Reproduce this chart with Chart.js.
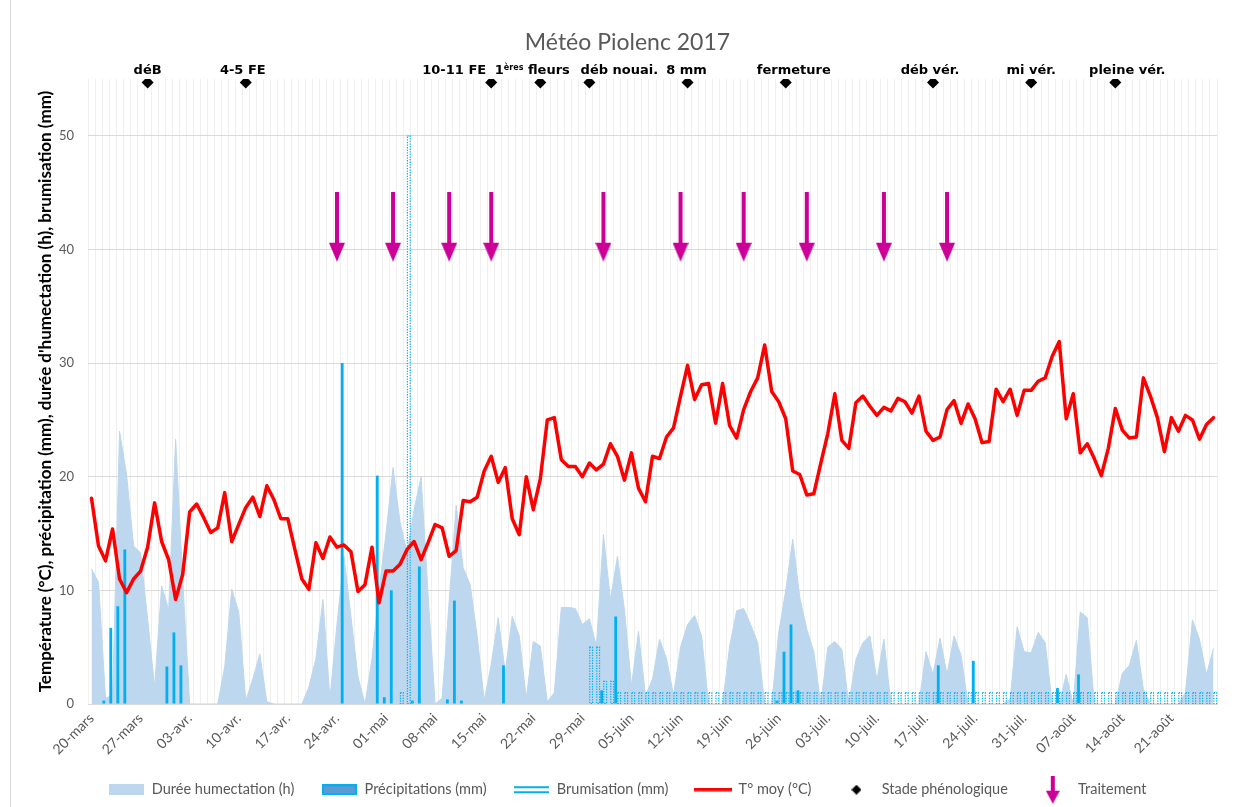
<!DOCTYPE html>
<html lang="fr">
<head>
<meta charset="utf-8">
<title>Météo Piolenc 2017</title>
<script src="https://cdn.jsdelivr.net/npm/chart.js@4.4.1/dist/chart.umd.min.js"></script>
<style>
  html, body { margin: 0; padding: 0; background: #fff; }
  #cadre { position: relative; width: 1235px; height: 807px; }
  #cadre::before { content: ''; position: absolute; left: 10px; top: 0; bottom: 0; border-left: 1px solid #d9d9d9; }
</style>
</head>
<body>
<div id="cadre"><canvas id="graphique"></canvas></div>
<script>
// étiquettes affichées sur l'axe des dates (une par semaine)
const tickLabels = ['20-mars', '27-mars', '03-avr.', '10-avr.', '17-avr.', '24-avr.', '01-mai', '08-mai',
  '15-mai', '22-mai', '29-mai', '05-juin', '12-juin', '19-juin', '26-juin', '03-juil.', '10-juil.',
  '17-juil.', '24-juil.', '31-juil.', '07-août', '14-août', '21-août'];

// T° moyenne journalière (°C), du 20 mars au 27 août
const temperature = [
  18.1, 13.9, 12.6, 15.4, 11.0, 9.8, 11.0,
  11.7, 13.8, 17.7, 14.3, 12.7, 9.2, 11.4,
  16.9, 17.6, 16.4, 15.1, 15.5, 18.6, 14.3,
  15.8, 17.3, 18.2, 16.5, 19.2, 18.0, 16.3,
  16.3, 13.6, 11.0, 10.1, 14.2, 12.8, 14.7,
  13.8, 14.0, 13.4, 9.9, 10.5, 13.8, 8.9,
  11.7, 11.7, 12.3, 13.6, 14.3, 12.7, 14.2,
  15.8, 15.5, 13.0, 13.5, 17.9, 17.8, 18.2,
  20.5, 21.8, 19.5, 20.8, 16.3, 14.9, 20.0,
  17.1, 19.8, 25.0, 25.2, 21.5, 20.9, 20.9,
  20.0, 21.2, 20.6, 21.1, 22.9, 21.8, 19.7,
  22.1, 19.0, 17.8, 21.8, 21.6, 23.5, 24.3,
  27.1, 29.8, 26.8, 28.1, 28.2, 24.7, 28.2,
  24.5, 23.4, 25.9, 27.5, 28.7, 31.6, 27.5,
  26.6, 25.1, 20.5, 20.2, 18.4, 18.5, 21.2,
  23.8, 27.3, 23.2, 22.5, 26.5, 27.1, 26.2,
  25.4, 26.1, 25.8, 26.9, 26.6, 25.6, 27.1,
  24.0, 23.2, 23.5, 25.9, 26.7, 24.7, 26.4,
  25.1, 23.0, 23.1, 27.7, 26.6, 27.7, 25.4,
  27.6, 27.6, 28.4, 28.7, 30.6, 31.9, 25.1,
  27.3, 22.1, 22.9, 21.6, 20.1, 22.5, 26.0,
  24.1, 23.4, 23.5, 28.7, 27.1, 25.2, 22.2,
  25.2, 24.0, 25.4, 25.0, 23.3, 24.6, 25.2
];

// durée d'humectation (h)
const humectation = [
  11.9, 10.7, 0.5, 0.8, 24.0, 20.2, 13.9,
  13.3, 7.5, 1.5, 10.4, 8.3, 23.3, 11.0,
  0, 0, 0, 0, 0, 3.3, 10.1,
  8.1, 0.3, 2.2, 4.4, 0.2, 0, 0,
  0, 0, 0, 1.5, 4.0, 9.2, 0.5,
  7.0, 13.0, 7.7, 2.4, 0, 4.0, 10.0,
  15.0, 20.8, 16.0, 13.3, 17.1, 20.0, 9.6,
  0, 0.5, 9.0, 17.5, 12.0, 10.5, 6.0,
  0.3, 3.5, 7.6, 2.8, 7.7, 6.0, 0.5,
  5.5, 5.1, 0.2, 1.0, 8.5, 8.5, 8.4,
  7.0, 7.5, 5.1, 14.9, 9.2, 13.0, 8.3,
  1.6, 6.4, 0.7, 2.2, 5.7, 4.0, 0.8,
  5.0, 7.0, 7.8, 6.0, 0, 0, 0,
  5.1, 8.2, 8.4, 7.0, 5.4, 0, 0,
  6.3, 10.0, 14.5, 9.4, 6.6, 4.6, 0,
  5.0, 5.5, 4.8, 0, 3.9, 5.4, 6.0,
  2.1, 5.7, 0, 0, 0, 0, 0,
  4.6, 2.6, 5.8, 2.6, 6.0, 4.3, 0,
  0, 0, 0, 0, 0, 0.4, 6.8,
  4.6, 4.5, 6.3, 5.4, 0, 0, 2.6,
  0, 8.1, 7.6, 0, 0, 0, 0,
  2.7, 3.4, 5.6, 1.3, 0, 0, 0,
  0, 0, 1.0, 7.4, 5.7, 2.6, 4.9
];

// précipitations (mm)
const precipitations = [
  0, 0, 0.3, 6.7, 8.6, 13.6, 0,
  0, 0, 0, 0, 3.3, 6.3, 3.4,
  0, 0, 0, 0, 0, 0, 0,
  0, 0, 0, 0, 0, 0, 0,
  0, 0, 0, 0, 0, 0, 0,
  0, 30.0, 0, 0, 0, 0, 20.1,
  0.6, 10.0, 0, 0, 0.3, 12.1, 0,
  0, 0, 0.4, 9.1, 0.3, 0, 0,
  0, 0, 0, 3.4, 0, 0, 0,
  0, 0, 0, 0, 0, 0, 0,
  0, 0, 0, 1.2, 0, 7.7, 0,
  0, 0, 0, 0, 0, 0, 0,
  0, 0, 0, 0, 0, 0, 0,
  0, 0, 0, 0, 0, 0, 0,
  0.3, 4.6, 7.0, 1.2, 0, 0, 0,
  0, 0, 0, 0, 0, 0, 0,
  0, 0, 0, 0, 0, 0, 0,
  0, 0, 3.4, 0, 0, 0, 0,
  3.8, 0, 0, 0, 0, 0, 0,
  0, 0, 0, 0, 0, 1.4, 0,
  0, 2.6, 0, 0, 0, 0, 0,
  0, 0, 0, 0, 0, 0, 0,
  0, 0, 0, 0, 0, 0, 0
];

// brumisation (mm)
const brumisation = [
  0, 0, 0, 0, 0, 0, 0,
  0, 0, 0, 0, 0, 0, 0,
  0, 0, 0, 0, 0, 0, 0,
  0, 0, 0, 0, 0, 0, 0,
  0, 0, 0, 0, 0, 0, 0,
  0, 0, 0, 0, 0, 0, 0,
  0, 0, 1, 50, 0, 0, 0,
  0, 0, 0, 0, 0, 0, 0,
  0, 0, 0, 0, 0, 0, 0,
  0, 0, 0, 0, 0, 0, 0,
  0, 5, 5, 2, 2, 1, 1,
  1, 1, 1, 1, 1, 1, 1,
  1, 1, 1, 1, 1, 1, 1,
  1, 1, 1, 1, 1, 1, 1,
  1, 1, 1, 1, 1, 1, 1,
  1, 1, 1, 1, 1, 1, 1,
  1, 1, 1, 1, 1, 1, 1,
  1, 1, 1, 1, 1, 1, 1,
  1, 1, 1, 1, 1, 1, 1,
  1, 1, 1, 1, 1, 1, 1,
  1, 1, 1, 1, 1, 1, 1,
  1, 1, 1, 1, 1, 1, 1,
  1, 1, 1, 1, 1, 1, 1
];

// stades phénologiques
const stadeJours = ['28-mars', '11-avr.', '16-mai', '23-mai', '30-mai', '13-juin', '27-juin', '18-juil.', '01-août', '13-août'];
const stadeNoms = ['déB', '4-5 FE', '10-11 FE', '1ères fleurs', 'déb nouai.', '8 mm', 'fermeture', 'déb vér.', 'mi vér.', 'pleine vér.'];
const stadeNiveau = 54.7;

// traitements
const traitementJours = ['24-avr.', '02-mai', '10-mai', '16-mai', '01-juin', '12-juin', '21-juin', '30-juin', '11-juil.', '20-juil.'];
const traitementNiveau = 42;

const moisNoms = ['janv.', 'févr.', 'mars', 'avr.', 'mai', 'juin', 'juil.', 'août', 'sept.'];
const jours = temperature.map((_, i) => {
  const d = new Date(2017, 2, 20 + i);
  return String(d.getDate()).padStart(2, '0') + '-' + moisNoms[d.getMonth()];
});

const MAGENTA = '#CC0099';
const BLEU = '#00B0F0';

function canevas(l, h, dessin) {
  const c = document.createElement('canvas');
  c.width = l;
  c.height = h;
  dessin(c.getContext('2d'));
  return c;
}

function fleche(l, h, tige, tete) {
  return canevas(l, h, g => {
    g.fillStyle = MAGENTA;
    g.fillRect((l - tige) / 2, 0, tige, h - tete);
    g.beginPath();
    g.moveTo(0, h - tete);
    g.lineTo(l, h - tete);
    g.lineTo(l / 2, h);
    g.closePath();
    g.fill();
  });
}

const flecheGraphique = fleche(16, 70, 4, 19);

// icônes de la légende
const icones = [
  canevas(35, 11, g => { g.fillStyle = '#BDD7EE'; g.fillRect(0, 0, 35, 11); }),
  canevas(35, 11, g => { g.fillStyle = '#5B9BD5'; g.fillRect(0, 0, 35, 11); g.strokeStyle = BLEU; g.lineWidth = 2; g.strokeRect(1, 1, 33, 9); }),
  canevas(35, 11, g => { g.fillStyle = BLEU; g.fillRect(0, 2, 35, 2); g.fillRect(0, 7, 35, 2); }),
  canevas(38, 4, g => { g.fillStyle = '#FF0000'; g.fillRect(0, 0, 38, 3.5); }),
  canevas(10, 10, g => { g.fillStyle = '#000'; g.beginPath(); g.moveTo(5, 0); g.lineTo(10, 5); g.lineTo(5, 10); g.lineTo(0, 5); g.closePath(); g.fill(); }),
  fleche(14, 28, 4, 13)
];

// la brumisation : barres sans remplissage, contour pointillé
const brumisationPointillee = {
  id: 'brumisationPointillee',
  afterDatasetDraw(chart, args) {
    if (chart.data.datasets[args.index].label !== 'Brumisation (mm)') return;
    const ctx = chart.ctx;
    ctx.save();
    ctx.strokeStyle = BLEU;
    ctx.lineWidth = 1.2;
    ctx.setLineDash([1.3, 1.3]);
    args.meta.data.forEach((barre, i) => {
      if (!brumisation[i]) return;
      const {x, y, base, width} = barre.getProps(['x', 'y', 'base', 'width'], true);
      ctx.strokeRect(x - width / 2, y, width, base - y);
    });
    ctx.restore();
  }
};

// noms des stades au-dessus des losanges
const decalageEtiquettes = [0, -3, -37, -8, 30, -1, 8, -3, 0, 12];
const etiquettesStades = {
  id: 'etiquettesStades',
  afterDatasetsDraw(chart) {
    const idx = chart.data.datasets.findIndex(d => d.label === 'Stade phénologique');
    const meta = chart.getDatasetMeta(idx);
    const ctx = chart.ctx;
    const normal = 'bold 13px "DejaVu Sans"';
    const petit = 'bold 8px "DejaVu Sans"';
    ctx.save();
    ctx.fillStyle = '#000';
    ctx.textBaseline = 'alphabetic';
    ctx.textAlign = 'left';
    meta.data.forEach((pt, i) => {
      const nom = stadeNoms[i];
      const y = pt.y - 8;
      const m = nom.match(/^(\d+)(ères)(.*)$/);
      const morceaux = m ? [[m[1], normal, 0], [m[2], petit, -4], [m[3], normal, 0]] : [[nom, normal, 0]];
      let total = 0;
      morceaux.forEach(p => { ctx.font = p[1]; total += ctx.measureText(p[0]).width; });
      let x = pt.x + decalageEtiquettes[i] - total / 2;
      morceaux.forEach(p => {
        ctx.font = p[1];
        ctx.fillText(p[0], x, y + p[2]);
        x += ctx.measureText(p[0]).width;
      });
    });
    ctx.restore();
  }
};

const police = 'Lato';

new Chart(document.getElementById('graphique'), {
  type: 'bar',
  data: {
    labels: jours,
    datasets: [
      {
        type: 'line',
        label: 'Durée humectation (h)',
        data: humectation,
        fill: 'origin',
        backgroundColor: '#BDD7EE',
        borderColor: '#BDD7EE',
        borderWidth: 1,
        pointRadius: 0,
        tension: 0,
        order: 6
      },
      {
        label: 'Précipitations (mm)',
        data: precipitations,
        backgroundColor: BLEU,
        barPercentage: 0.8,
        categoryPercentage: 1,
        order: 4
      },
      {
        label: 'Brumisation (mm)',
        data: brumisation,
        backgroundColor: 'rgba(0,0,0,0)',
        barPercentage: 0.8,
        categoryPercentage: 1,
        order: 5
      },
      {
        type: 'line',
        label: 'T° moy (°C)',
        data: temperature,
        borderColor: '#FF0000',
        borderWidth: 3.5,
        borderJoinStyle: 'round',
        borderCapStyle: 'round',
        pointRadius: 0,
        tension: 0,
        fill: false,
        order: 3
      },
      {
        type: 'line',
        label: 'Stade phénologique',
        data: stadeJours.map(j => ({x: j, y: stadeNiveau})),
        showLine: false,
        pointStyle: 'rectRot',
        pointRadius: 6,
        pointBorderWidth: 0,
        backgroundColor: '#000',
        borderColor: '#000',
        order: 2
      },
      {
        type: 'line',
        label: 'Traitement',
        data: traitementJours.map(j => ({x: j, y: traitementNiveau})),
        showLine: false,
        pointStyle: flecheGraphique,
        order: 1
      }
    ]
  },
  options: {
    responsive: true,
    maintainAspectRatio: false,
    animation: false,
    layout: { padding: { left: 38, right: 18 } },
    scales: {
      x: {
        offset: true,
        grid: { color: '#efefef', drawTicks: false, offset: true },
        border: { color: '#d9d9d9' },
        ticks: {
          autoSkip: false,
          minRotation: 45,
          maxRotation: 45,
          padding: 6,
          color: '#595959',
          font: { family: police, size: 14 },
          callback: function(valeur) {
            const lab = this.getLabelForValue(valeur);
            return tickLabels.includes(lab) ? lab : '';
          }
        },
        afterFit: s => { s.height = 51.5; }
      },
      y: {
        min: 0,
        max: 55,
        ticks: { stepSize: 10, padding: 14, color: '#595959', font: { family: police, size: 13 } },
        afterBuildTicks: s => { s.ticks = s.ticks.filter(t => t.value <= 50); },
        grid: { color: '#d9d9d9', drawTicks: false },
        border: { display: false },
        title: {
          display: true,
          text: "Température (°C), précipitation (mm), durée d'humectation (h), brumisation (mm)",
          color: '#000',
          font: { family: police, size: 17, weight: 'bold' },
          padding: { top: -3 }
        },
        afterFit: s => { s.width = 50; }
      }
    },
    plugins: {
      title: {
        display: true,
        text: 'Météo Piolenc 2017',
        color: '#595959',
        font: { family: police, size: 23, weight: 'normal' },
        padding: { top: 29.2, bottom: 22.2 }
      },
      legend: {
        position: 'bottom',
        labels: {
          usePointStyle: true,
          pointStyleWidth: 36,
          padding: 27,
          color: '#595959',
          font: { family: police, size: 14.5 },
          generateLabels: chart => chart.data.datasets.map((ds, i) => ({
            text: ds.label,
            pointStyle: icones[i],
            datasetIndex: i,
            hidden: false,
            fontColor: '#595959',
            fillStyle: 'rgba(0,0,0,0)',
            strokeStyle: 'rgba(0,0,0,0)',
            lineWidth: 0
          }))
        }
      },
      tooltip: { enabled: false }
    }
  },
  plugins: [brumisationPointillee, etiquettesStades]
});
</script>
</body>
</html>
